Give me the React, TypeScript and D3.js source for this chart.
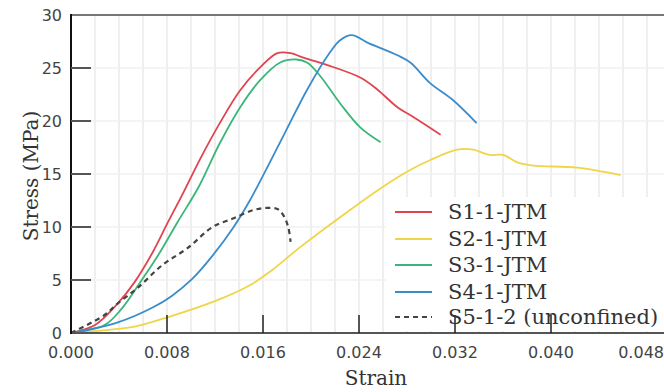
import React, { useEffect, useRef } from "react";
import * as d3 from "d3";

// strain / stress readings per specimen
const s1Strain = [0, 0.002, 0.0039, 0.0053, 0.0068, 0.0081, 0.0093, 0.0108, 0.0124, 0.0141, 0.0158, 0.0172, 0.0183, 0.0193, 0.0213, 0.0241, 0.0255, 0.0272, 0.0285, 0.0308];
const s1Stress = [0, 0.75, 2.8, 4.8, 7.6, 10.5, 13.1, 16.5, 19.8, 22.9, 25.1, 26.4, 26.4, 26.0, 25.3, 24.1, 23.0, 21.3, 20.4, 18.7];

const s2Strain = [0, 0.0027, 0.0053, 0.0081, 0.012, 0.0149, 0.0166, 0.0191, 0.0224, 0.026, 0.0283, 0.0299, 0.0322, 0.0335, 0.0349, 0.036, 0.0372, 0.0385, 0.0422, 0.0458];
const s2Stress = [0, 0.25, 0.6, 1.5, 3.0, 4.5, 5.8, 8.1, 10.9, 13.8, 15.4, 16.3, 17.3, 17.3, 16.8, 16.8, 16.1, 15.8, 15.6, 14.9];

const s3Strain = [0, 0.0028, 0.0043, 0.0056, 0.0073, 0.0089, 0.0106, 0.0124, 0.0141, 0.0158, 0.0174, 0.0188, 0.0197, 0.0208, 0.0224, 0.0241, 0.0258];
const s3Stress = [0, 0.75, 2.4, 4.5, 7.4, 10.5, 13.7, 17.9, 21.3, 23.9, 25.5, 25.8, 25.5, 24.2, 21.7, 19.4, 18.0];

const s4Strain = [0, 0.0039, 0.0068, 0.0084, 0.0101, 0.0118, 0.0135, 0.0149, 0.0177, 0.0197, 0.0216, 0.0224, 0.0234, 0.0247, 0.0272, 0.0283, 0.0299, 0.0318, 0.0338];
const s4Stress = [0, 1.0, 2.4, 3.5, 5.1, 7.3, 9.9, 12.5, 18.6, 23.0, 26.5, 27.6, 28.1, 27.4, 26.2, 25.5, 23.6, 22.0, 19.8];

const s5Strain = [0, 0.0028, 0.0039, 0.0056, 0.0076, 0.0097, 0.0118, 0.0135, 0.0152, 0.0163, 0.0172, 0.0177, 0.0181, 0.0183];
const s5Stress = [0, 1.7, 2.8, 4.3, 6.4, 8.0, 10.0, 10.8, 11.6, 11.8, 11.7, 11.1, 10.0, 8.6];

const seriesNames = ["S1-1-JTM", "S2-1-JTM", "S3-1-JTM", "S4-1-JTM", "S5-1-2 (unconfined)"];
const seriesColors = ["#e0444f", "#f0d548", "#3bb67a", "#3a8ccb", "#444444"];
const xTicks = [0, 0.008, 0.016, 0.024, 0.032, 0.04, 0.048];
const yTicks = [0, 5, 10, 15, 20, 25, 30];

const W = 664;
const H = 392;

const App: React.FC = () => {
  const svgRef = useRef<SVGSVGElement | null>(null);

  useEffect(() => {
    if (!svgRef.current) return;
    const svg = d3.select(svgRef.current);
    svg.selectAll("*").remove();

    const x = d3.scaleLinear().domain([0, 0.048]).range([71, 647]);
    const y = d3.scaleLinear().domain([0, 30]).range([333, 15]);

    const all = [
      { xs: s1Strain, ys: s1Stress },
      { xs: s2Strain, ys: s2Stress },
      { xs: s3Strain, ys: s3Stress },
      { xs: s4Strain, ys: s4Stress },
      { xs: s5Strain, ys: s5Stress },
    ];

    svg.append("rect").attr("width", W).attr("height", H).attr("fill", "#fff");

    // grid
    const gridX = d3.range(0.002, 0.0495, 0.002);
    svg.append("g").selectAll("line").data(gridX).join("line")
      .attr("x1", (d) => x(d)).attr("x2", (d) => x(d))
      .attr("y1", y(30)).attr("y2", y(0))
      .attr("stroke", "#e4e4e4").attr("stroke-width", 1.2);
    svg.append("g").selectAll("line").data(yTicks.slice(1, -1)).join("line")
      .attr("x1", x(0)).attr("x2", W)
      .attr("y1", (d) => y(d)).attr("y2", (d) => y(d))
      .attr("stroke", "#f1f1f1").attr("stroke-width", 1.5);

    // legend background hides grid
    svg.append("rect").attr("x", 386).attr("y", 197).attr("width", W - 386).attr("height", 134).attr("fill", "#fff");

    // curves
    const line = d3.line<[number, number]>()
      .x((d) => x(d[0])).y((d) => y(d[1]))
      .curve(d3.curveCatmullRom.alpha(0.5));
    all.forEach((s, i) => {
      const pts = s.xs.map((v, k) => [v, s.ys[k]] as [number, number]);
      svg.append("path").attr("d", line(pts) as string)
        .attr("fill", "none")
        .attr("stroke", seriesColors[i])
        .attr("stroke-width", i === 4 ? 2.2 : 1.8)
        .attr("stroke-dasharray", i === 4 ? "5,4" : null);
    });

    // frame
    svg.append("line").attr("x1", x(0)).attr("x2", W).attr("y1", y(30)).attr("y2", y(30))
      .attr("stroke", "#777").attr("stroke-width", 2);
    svg.append("line").attr("x1", x(0)).attr("x2", W).attr("y1", y(0)).attr("y2", y(0))
      .attr("stroke", "#555").attr("stroke-width", 2);
    svg.append("line").attr("x1", x(0)).attr("x2", x(0)).attr("y1", y(30) - 1).attr("y2", y(0) + 1)
      .attr("stroke", "#111").attr("stroke-width", 2);

    // y ticks
    const yg = svg.append("g");
    yg.selectAll("line").data(yTicks.slice(1, -1)).join("line")
      .attr("x1", x(0)).attr("x2", x(0) + 20)
      .attr("y1", (d) => y(d)).attr("y2", (d) => y(d))
      .attr("stroke", "#555").attr("stroke-width", 2);
    yg.selectAll("text").data(yTicks).join("text")
      .attr("x", 62).attr("y", (d) => y(d) + 6)
      .attr("text-anchor", "end")
      .attr("font-family", "DejaVu Sans, sans-serif").attr("font-size", 16)
      .attr("fill", "#444").text((d) => d);

    // x ticks
    const xg = svg.append("g");
    xg.selectAll("line").data(xTicks.slice(1, -1)).join("line")
      .attr("x1", (d) => x(d)).attr("x2", (d) => x(d))
      .attr("y1", y(0)).attr("y2", y(0) - 18)
      .attr("stroke", "#222").attr("stroke-width", 1.5);
    xg.selectAll("text").data(xTicks).join("text")
      .attr("x", (d, i) => (i === xTicks.length - 1 ? W : x(d)))
      .attr("y", 358)
      .attr("text-anchor", (d, i) => (i === xTicks.length - 1 ? "end" : "middle"))
      .attr("font-family", "DejaVu Sans, sans-serif").attr("font-size", 16)
      .attr("fill", "#444").text((d) => d3.format(".3f")(d));

    // axis titles
    svg.append("text").attr("x", 376).attr("y", 385).attr("text-anchor", "middle")
      .attr("font-family", "DejaVu Serif, serif").attr("font-size", 20).attr("fill", "#333")
      .text("Strain");
    svg.append("text").attr("transform", "translate(38,176) rotate(-90)").attr("text-anchor", "middle")
      .attr("font-family", "DejaVu Serif, serif").attr("font-size", 20).attr("fill", "#333")
      .text("Stress (MPa)");

    // legend
    const rowsY = [212, 239, 265, 292, 317];
    const lg = svg.append("g");
    seriesNames.forEach((name, i) => {
      lg.append("line").attr("x1", 395).attr("x2", 432).attr("y1", rowsY[i]).attr("y2", rowsY[i])
        .attr("stroke", seriesColors[i]).attr("stroke-width", 2)
        .attr("stroke-dasharray", i === 4 ? "5,4" : null);
      lg.append("text").attr("x", 448).attr("y", rowsY[i] + 7)
        .attr("font-family", "DejaVu Serif, serif").attr("font-size", 21).attr("fill", "#333")
        .text(name);
    });
  }, []);

  return (
    <div style={{ position: "fixed", left: 0, top: 0, width: W, height: H }}>
      <svg ref={svgRef} width={W} height={H}></svg>
    </div>
  );
};

export default App;
